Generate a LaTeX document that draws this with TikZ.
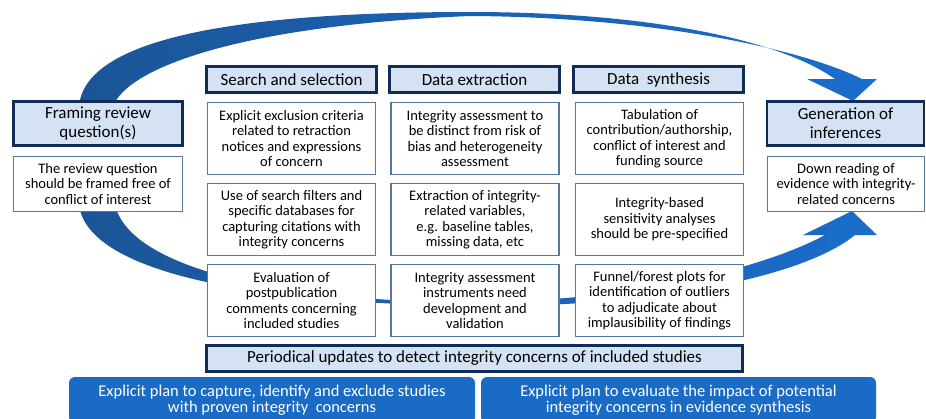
\documentclass[tikz,border=0pt]{standalone}
\usepackage{fontspec}
\setmainfont{Carlito}
\definecolor{headfill}{HTML}{D4E2F3}
\definecolor{headline}{HTML}{0F2D57}
\definecolor{boxline}{HTML}{55789F}
\definecolor{planblue}{HTML}{1A6BC5}
\definecolor{arcdark}{HTML}{1B5597}
\definecolor{arclight}{HTML}{1A6DCB}
\tikzset{every picture/.style={line width=0.75pt}}
\tikzset{
  headbox/.style={draw=headline, fill=headfill, line width=2.6pt, align=center, inner sep=1pt,
    font=\fontsize{17}{18.7}\selectfont},
  textbox/.style={draw=boxline, fill=white, line width=1.1pt, align=center, inner sep=1pt,
    font=\fontsize{14.5}{15.5}\selectfont},
  planbar/.style={fill=planblue, rounded corners=6pt, text=white, align=center, inner sep=1pt,
    font=\fontsize{16.5}{15.5}\selectfont}
}

\begin{document}
\begin{tikzpicture}[x=1pt,y=-1pt]
    \useasboundingbox (0,0) rectangle (926,418);
    \shade[left color=arcdark, right color=arclight] (79,106) .. controls (85,40) and (230,12) .. (470,12)
        .. controls (650,12) and (780,40) .. (835,79) -- (807,79) -- (853,101) -- (877,79) -- (862,79)
        .. controls (800,48) and (650,17) .. (470,16) .. controls (250,25) and (130,65) .. (113,106) -- cycle;
    \shade[left color=arcdark, right color=arclight] (79,205) .. controls (88,272) and (250,303) .. (470,306)
        .. controls (640,308) and (800,280) .. (855,235) -- (877,235) -- (852,211) -- (803,235) -- (825,235)
        .. controls (770,265) and (640,302) .. (470,302) .. controls (280,302) and (130,268) .. (115,205) -- cycle;

    \node[headbox, minimum width=169, minimum height=44] (frame) at (98,123.5) {Framing review\\question(s)};
    \node[textbox, minimum width=169, minimum height=55] (frametxt) at (98,184) {The review question\\should be framed free of\\conflict of interest};

    \node[headbox, minimum width=170, minimum height=26] (search) at (291.5,79.5) {Search and selection};
    \node[headbox, minimum width=170, minimum height=26] (extract) at (474.5,79.5) {Data extraction};
    \node[headbox, minimum width=170, minimum height=26] (synth) at (658.5,79.5) {Data~\ synthesis};

    \node[textbox, minimum width=168, minimum height=72] (search1) at (291.5,138.5) {Explicit exclusion criteria\\related to retraction\\notices and expressions\\of concern};
    \node[textbox, minimum width=168, minimum height=72] (search2) at (291.5,219.5) {Use of search filters and\\specific databases for\\capturing citations with\\integrity concerns};
    \node[textbox, minimum width=168, minimum height=72] (search3) at (291.5,300.5) {Evaluation of\\postpublication\\comments concerning\\included studies};

    \node[textbox, minimum width=168, minimum height=72] (extract1) at (475,138.5) {Integrity assessment to\\be distinct from risk of\\bias and heterogeneity\\assessment};
    \node[textbox, minimum width=168, minimum height=72] (extract2) at (475,219.5) {Extraction of integrity-\\related variables,\\e.g. baseline tables,\\missing data, etc};
    \node[textbox, minimum width=168, minimum height=72] (extract3) at (475,300.5) {Integrity assessment\\instruments need\\development and\\validation};

    \node[textbox, minimum width=168, minimum height=72] (synth1) at (659.5,138.5) {Tabulation of\\contribution/authorship,\\conflict of interest and\\funding source};
    \node[textbox, minimum width=168, minimum height=72] (synth2) at (659.5,219.5) {Integrity-based\\sensitivity analyses\\should be pre-specified};
    \node[textbox, minimum width=168, minimum height=72] (synth3) at (659.5,300.5) {Funnel/forest plots for\\identification of outliers\\to adjudicate about\\implausibility of findings};

    \node[headbox, minimum width=536, minimum height=26, font=\fontsize{17}{18}\selectfont] (update) at (474.5,358.5) {Periodical updates to detect integrity concerns of included studies};

    \node[headbox, minimum width=157, minimum height=44] (infer) at (845.5,123.5) {Generation of\\inferences};
    \node[textbox, minimum width=157, minimum height=55] (infertxt) at (846,184) {Down reading of\\evidence with integrity-\\related concerns};

    \node[planbar, minimum width=406, minimum height=46] (planl) at (272,400) {Explicit plan to capture, identify and exclude studies\\with proven integrity~\ concerns};
    \node[planbar, minimum width=395, minimum height=46] (planr) at (678.5,400) {Explicit plan to evaluate the impact of potential\\integrity concerns in evidence synthesis};
\end{tikzpicture}
\end{document}
